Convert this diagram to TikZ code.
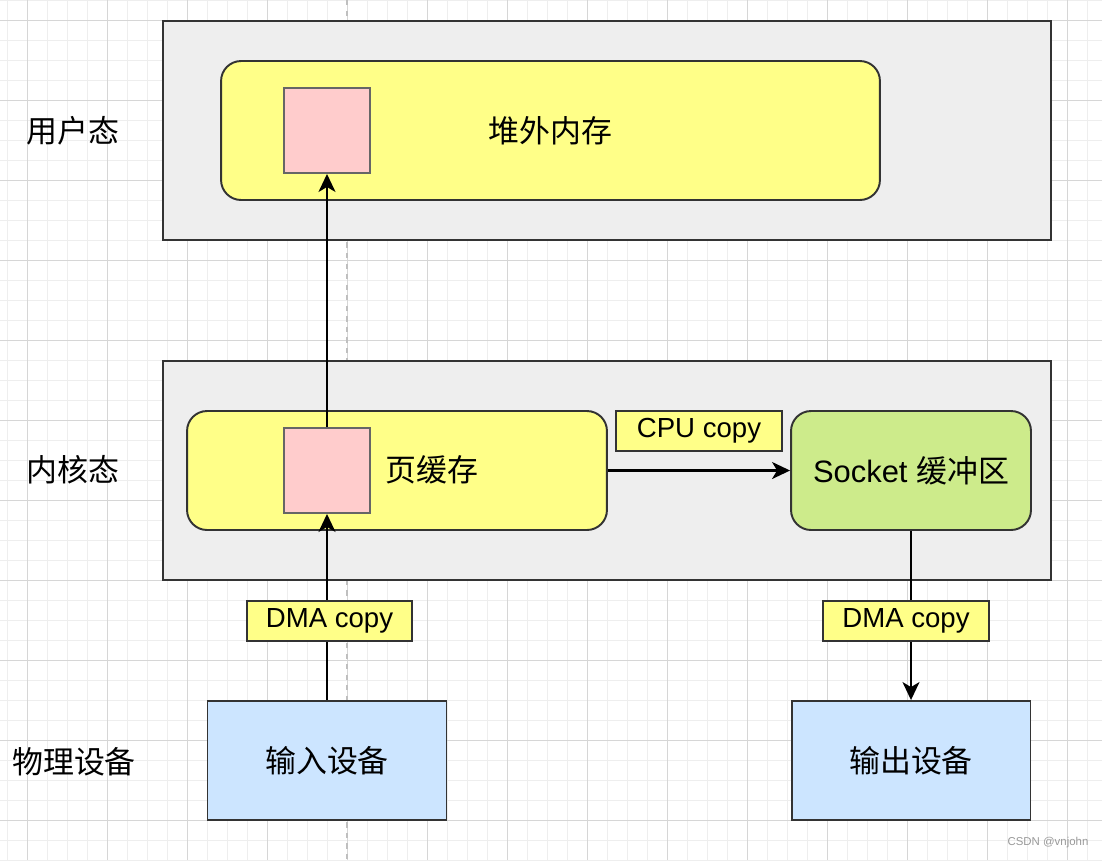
\documentclass[tikz,border=0pt]{standalone}
\usepackage{fontspec}
\setmainfont{Liberation Sans}
\newfontfamily\cjk{Noto Sans CJK SC}
\usetikzlibrary{arrows.meta}
\definecolor{panelgray}{HTML}{EEEEEE}
\definecolor{bufyellow}{HTML}{FFFF88}
\definecolor{pagepink}{HTML}{FFCCCC}
\definecolor{sockgreen}{HTML}{CDEB8B}
\definecolor{devblue}{HTML}{CCE5FF}
\definecolor{edgegray}{HTML}{333333}
\definecolor{gridminor}{HTML}{EEEEEE}
\definecolor{gridmajor}{HTML}{D6D6D6}
\tikzset{
  txt/.style={font=\fontsize{17.6}{20}\selectfont},
  layer/.style={draw=edgegray, fill=panelgray, line width=1.1pt, minimum width=17.76cm, minimum height=4.38cm},
  buffer/.style={draw=edgegray, fill=bufyellow, line width=1.1pt, rounded corners=0.4cm, txt},
  page/.style={draw=black!60, fill=pagepink, line width=1.1pt, minimum width=1.72cm, minimum height=1.7cm},
  device/.style={draw=edgegray, fill=devblue, line width=1.1pt, minimum width=4.78cm, minimum height=2.38cm, txt},
  copytag/.style={draw=edgegray, fill=bufyellow, line width=1.1pt, minimum height=0.8cm, inner sep=0pt, font=\fontsize{15.7}{18}\selectfont},
  flow/.style={-{Stealth[length=0.36cm, width=0.34cm, inset=0.1cm]}, line width=1.2pt}
}
\begin{document}
\begin{tikzpicture}[x=0.02cm, y=-0.02cm]
        \useasboundingbox (0,0) rectangle (1102,860);
        %grid
        \fill[white] (0,0) rectangle (1102,860);
        \foreach \gx in {7,27,...,1102} \draw[gridminor, line width=0.5pt] (\gx,0) -- (\gx,860);
        \foreach \gy in {0,20,...,860} \draw[gridminor, line width=0.5pt] (0,\gy) -- (1102,\gy);
        \foreach \gx in {27,107,...,1102} \draw[gridmajor, line width=0.5pt] (\gx,0) -- (\gx,860);
        \foreach \gy in {20,100,...,860} \draw[gridmajor, line width=0.5pt] (0,\gy) -- (1102,\gy);
        \draw[black!25, dashed, line width=0.6pt] (347,0) -- (347,860);

        %layer labels
        \node[txt] (luser) at (73,131) {\cjk 用户态};
        \node[txt] (lkernel) at (73,470) {\cjk 内核态};
        \node[txt] (ldevice) at (74,762) {\cjk 物理设备};

        %user space
        \node[layer] (user) at (607,130.5) {};
        \node[buffer, minimum width=13.18cm, minimum height=2.78cm] (offheap) at (550.5,130.5) {\cjk 堆外内存};
        \node[page] (upage) at (327,130.5) {};

        %kernel space
        \node[layer] (kernel) at (607,470.5) {};
        \node[buffer, minimum width=8.4cm, minimum height=2.38cm] (pcache) at (397,470.5) {};
        \node[page] (kpage) at (327,470.5) {};
        \node[txt] (pcachetxt) at (432,470) {\cjk 页缓存};
        \node[buffer, fill=sockgreen, minimum width=4.8cm, minimum height=2.38cm] (sock) at (911,470.5) {Socket {\cjk 缓冲区}};

        %devices
        \node[device] (devin) at (327,760.5) {\cjk 输入设备};
        \node[device] (devout) at (911,760.5) {\cjk 输出设备};

        %arrows
        \draw[flow] (devin.north) -- (kpage.south);
        \draw[flow] (kpage.north) -- (upage.south);
        \draw[flow] (pcache.east) -- (sock.west);
        \draw[flow] (sock.south) -- (devout.north);

        %copy tags
        \node[copytag, minimum width=3.32cm] (cpucopy) at (699,431) {CPU copy};
        \node[copytag, minimum width=3.3cm] (dmain) at (329.5,621) {DMA copy};
        \node[copytag, minimum width=3.32cm] (dmaout) at (906,621) {DMA copy};

        \node[text=black!40, font=\fontsize{6.5}{8}\selectfont] (mark) at (1048,843) {CSDN @vnjohn};
    \end{tikzpicture}
\end{document}
